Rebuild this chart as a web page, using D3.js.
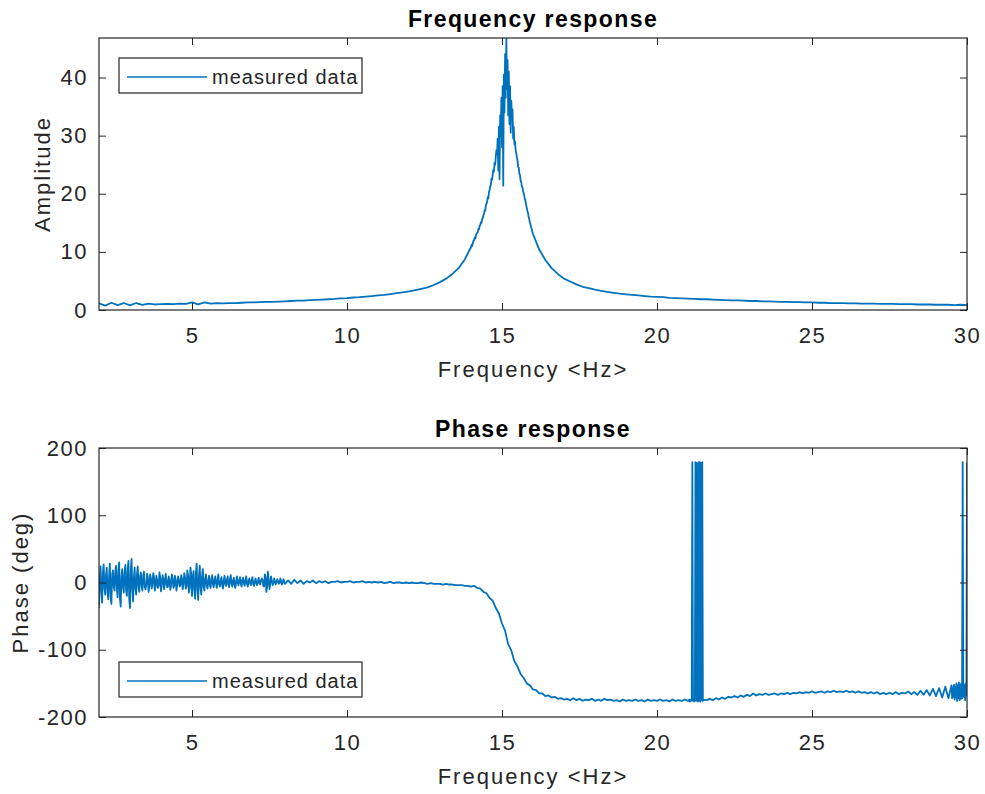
<!DOCTYPE html>
<html>
<head>
<meta charset="utf-8">
<script src="https://cdn.jsdelivr.net/npm/d3@7"></script>
<style>
  body { margin: 0; background: #fff; }
  svg { display: block; font-family: "Liberation Sans", Arial, Helvetica, sans-serif; }
</style>
</head>
<body>
<svg></svg>
<script>
// amplitude, 2.0 - 13.8 Hz every 0.2 Hz
const ampLow = [
  1.15, 0.75, 1.25, 0.85, 1.2, 0.8, 1.2, 0.9, 1.1, 0.95,
  1.0, 1.05, 1.0, 1.1, 1.05, 1.3, 0.95, 1.3, 1.1, 1.2,
  1.15, 1.2, 1.2, 1.25, 1.3, 1.3, 1.35, 1.4, 1.4, 1.45,
  1.5, 1.55, 1.6, 1.6, 1.7, 1.75, 1.8, 1.85, 1.9, 2.0,
  2.05, 2.15, 2.2, 2.3, 2.4, 2.5, 2.6, 2.75, 2.9, 3.05,
  3.2, 3.4, 3.65, 3.9, 4.3, 4.8, 5.4, 6.2, 7.2, 8.7
]
// amplitude, 14.0 - 16.0 Hz every 0.02 Hz (resonance)
const ampPeak = [
  10.8, 11.2, 11.0, 11.6, 11.9, 12.0, 12.5, 12.3, 12.9, 13.1,
  13.3, 13.4, 14.0, 13.9, 14.5, 14.6, 15.1, 15.0, 15.7, 15.8,
  16.3, 16.5, 17.2, 17.1, 18.0, 18.3, 18.6, 19.4, 19.2, 20.3,
  20.6, 21.3, 21.5, 22.6, 22.4, 23.3, 24.1, 23.8, 25.3, 25.0,
  26.4, 27.5, 26.8, 29.5, 24.0, 31.5, 22.5, 33.5, 30.0, 36.5,
  28.0, 38.5, 21.4, 40.5, 34.0, 44.0, 36.5, 46.8, 38.0, 43.0,
  33.5, 41.0, 32.0, 38.5, 30.5, 36.0, 33.0, 34.5, 29.5, 31.5,
  28.5, 29.0, 27.5, 27.0, 26.3, 25.8, 24.6, 24.5, 23.5, 23.2,
  22.3, 22.0, 21.3, 21.1, 20.4, 20.1, 19.6, 19.0, 18.7, 18.0,
  17.6, 17.0, 16.7, 16.0, 15.6, 15.1, 14.7, 14.2, 13.9, 13.4,
  13.1
]
// amplitude, 16.2 - 30.0 Hz every 0.2 Hz
const ampHigh = [
  10.4, 8.6, 7.2, 6.2, 5.4, 4.9, 4.4, 4.0, 3.75, 3.5,
  3.3, 3.1, 2.95, 2.8, 2.7, 2.6, 2.5, 2.4, 2.3, 2.25,
  2.2, 2.1, 2.05, 2.0, 1.95, 1.9, 1.85, 1.85, 1.8, 1.75,
  1.7, 1.65, 1.65, 1.6, 1.55, 1.55, 1.5, 1.5, 1.45, 1.4,
  1.4, 1.35, 1.35, 1.3, 1.3, 1.25, 1.25, 1.2, 1.2, 1.2,
  1.15, 1.15, 1.1, 1.1, 1.1, 1.05, 1.05, 1.05, 1.0, 1.0,
  1.0, 0.95, 0.95, 0.95, 0.9, 0.9, 0.9, 0.85, 0.9, 0.85
]

// phase (deg), 2.000 - 8.000 Hz every 0.025 Hz
const phaseLow = [
  -38, 5, 24, -12, -30, 14, 27, -8, -18, 10,
  22, -15, -25, 8, 28, -20, -32, 12, 18, -5,
  -12, 16, 25, -10, -22, 18, 30, -24, -36, 9,
  20, -7, -15, 15, 26, -12, -20, 20, 32, -25,
  -38, 18, 35, -10, -28, 8, 22, -9, -18, 12,
  24, -6, -14, 9, 15, -5, -12, 10, 16, -7,
  -10, -4, 13, 7, -14, -5, 12, 6, -9, -3,
  14, 8, -12, -6, 10, 4, -8, -5, 15, 7,
  -13, -4, 11, 6, -10, -3, 13, 5, -7, -6,
  9, 4, -11, -4, 12, 6, -8, -5, 10, 3,
  -12, -2, 9, 5, -6, -4, 11, 6, -10, -3,
  14, 8, -9, -6, 18, 10, -15, -8, 22, 12,
  -20, 6, 17, -10, -24, 14, 28, -12, -26, 10,
  25, -8, -18, 9, 20, -6, -12, 5, 12, -4,
  -9, 3, 10, -4, -8, 5, 11, -3, -7, 4,
  9, -2, -8, 5, 12, -3, -6, 2, 8, -4,
  -9, 3, 10, -2, -5, 4, 9, -3, -7, 5,
  11, -2, -6, 3, 7, -4, -8, 2, 9, -1,
  -4, 3, 8, -2, -6, 4, 7, -1, -5, 3,
  9, -2, -6, 2, 6, -1, -4, 3, 8, -2,
  -5, 1, 6, -1, -4, 2, 7, -1, -3, 3,
  6, 4, -5, -6, 12, 8, -14, -5, 16, 3,
  -10, -1, 9, 2, -4, -1, 6, 2, -3, 0,
  5, 2, -2, -1, 6, 2, -3, 0, 5, 1,
  -2
]
// phase, 8.1 - 14.0 Hz every 0.1 Hz
const phaseMid = [
  3, -2, 4, -1, 3, -2, 2, 0, 3, -1,
  2, 0, 2, -1, 1, 1, 2, 0, 1, 1,
  2, 0, 1, 1, 2, 0, 1, 0, 1, 0,
  1, -1, 0, 1, -1, 0, 0, -1, 0, -1,
  0, -1, -1, 0, -1, -2, -1, -2, -2, -2,
  -3, -2, -3, -3, -4, -4, -4, -5, -5, -6
]
// phase, 14.1 - 17.0 Hz every 0.1 Hz
const phaseDrop = [
  -5, -8, -9, -14, -16, -23, -27, -38, -46, -61,
  -72, -92, -101, -117, -125, -136, -142, -150, -153, -159,
  -160, -165, -165, -169, -168, -171, -170, -173, -172, -174
]
// phase, 17.1 - 21.0 Hz every 0.1 Hz
const phaseFlat = [
  -173, -175, -172, -175, -173, -176, -174, -175, -173, -176,
  -174, -176, -173, -175, -174, -176, -175, -177, -174, -176,
  -175, -176, -174, -176, -175, -177, -174, -176, -175, -176,
  -174, -176, -175, -177, -174, -176, -175, -176, -174, -176
]
// phase, 21.02 - 21.50 Hz every 0.02 Hz (wraps to +180)
const phaseWrap1 = [
  -176, -174, -177, -175, -176, -174, 179, -176, -175, -177,
  -174, 179, -176, 178, -175, -177, 179, -176, 179, -177,
  178, -175, 179, -176, -174
]
// phase, 21.6 - 29.5 Hz every 0.1 Hz
const phaseTail = [
  -175, -173, -175, -172, -174, -171, -173, -170, -171, -169,
  -171, -168, -170, -167, -169, -165, -168, -166, -167, -165,
  -167, -166, -165, -167, -165, -166, -164, -166, -164, -165,
  -163, -165, -163, -164, -162, -164, -163, -162, -164, -162,
  -163, -161, -163, -162, -163, -161, -163, -162, -164, -162,
  -164, -163, -165, -163, -165, -163, -166, -164, -166, -164,
  -166, -163, -166, -164, -165, -162, -166, -163, -167, -161,
  -167, -160, -168, -158, -169, -157, -171, -155, -172, -153
]
// phase, 29.52 - 30.00 Hz every 0.02 Hz
const phaseWrap2 = [
  -172, -156, -170, -152, -174, -155, -171, -150, -176, -153,
  -172, -149, -175, -152, -173, -150, -172, 179, -158, -170,
  -152, -175, -150, -168, 178
]

const freqTicks = [5, 10, 15, 20, 25, 30]
const ampTicks = [0, 10, 20, 30, 40]
const phaseTicks = [-200, -100, 0, 100, 200]

const segment = (start, step, values) => values.map((v, i) => [start + i * step, v])

const ampData = [
  ...segment(2, 0.2, ampLow),
  ...segment(14, 0.02, ampPeak),
  ...segment(16.2, 0.2, ampHigh)
]
const phaseData = [
  ...segment(2, 0.025, phaseLow),
  ...segment(8.1, 0.1, phaseMid),
  ...segment(14.1, 0.1, phaseDrop),
  ...segment(17.1, 0.1, phaseFlat),
  ...segment(21.02, 0.02, phaseWrap1),
  ...segment(21.6, 0.1, phaseTail),
  ...segment(29.52, 0.02, phaseWrap2)
]

const width = 985
const height = 794
const left = 99
const right = 967
const ink = '#262626'
const blue = '#0072BD'

const svg = d3.select('svg')
              .attr('width', width)
              .attr('height', height)

const xScale = d3.scaleLinear()
                 .domain([2, 30])
                 .range([left, right])

const styleAxis = (g) => {
  g.attr('font-family', null).attr('font-size', null)
  g.select('.domain').remove()
  g.selectAll('.tick line').attr('stroke', ink).attr('stroke-width', 1)
  g.selectAll('.tick text')
   .attr('fill', ink)
   .style('font-size', '22px')
   .style('letter-spacing', '1.5px')
}

const drawPanel = (cfg, id) => {
  const yScale = d3.scaleLinear()
                   .domain(cfg.yDomain)
                   .range([cfg.bottom, cfg.top])

  svg.append('clipPath')
     .attr('id', id)
     .append('rect')
     .attr('x', left)
     .attr('y', cfg.top)
     .attr('width', right - left)
     .attr('height', cfg.bottom - cfg.top)

  svg.append('path')
     .datum(cfg.data)
     .attr('clip-path', `url(#${id})`)
     .attr('fill', 'none')
     .attr('stroke', blue)
     .attr('stroke-width', 1.8)
     .attr('stroke-linejoin', 'round')
     .attr('d', d3.line().x(d => xScale(d[0])).y(d => yScale(d[1])))

  // plain hyphen for negatives, like the original
  svg.append('g')
     .attr('transform', `translate(0, ${cfg.bottom})`)
     .call(d3.axisBottom(xScale).tickValues(freqTicks).tickSize(-7).tickPadding(17).tickFormat(d => `${d}`))
     .call(styleAxis)

  svg.append('g')
     .attr('transform', `translate(0, ${cfg.top})`)
     .call(d3.axisTop(xScale).tickValues(freqTicks).tickSize(-7).tickFormat(''))
     .call(styleAxis)

  svg.append('g')
     .attr('transform', `translate(${left}, 0)`)
     .call(d3.axisLeft(yScale).tickValues(cfg.yTicks).tickSize(-7).tickPadding(11).tickFormat(d => `${d}`))
     .call(styleAxis)

  svg.append('g')
     .attr('transform', `translate(${right}, 0)`)
     .call(d3.axisRight(yScale).tickValues(cfg.yTicks).tickSize(-7).tickFormat(''))
     .call(styleAxis)

  svg.append('rect')
     .attr('x', left)
     .attr('y', cfg.top)
     .attr('width', right - left)
     .attr('height', cfg.bottom - cfg.top)
     .attr('fill', 'none')
     .attr('stroke', ink)
     .attr('stroke-width', 1.2)

  svg.append('text')
     .text(cfg.title)
     .attr('x', (left + right) / 2)
     .attr('y', cfg.top - 11)
     .attr('text-anchor', 'middle')
     .style('font-size', '23px')
     .style('font-weight', 'bold')
     .style('letter-spacing', '1.4px')

  svg.append('text')
     .text('Frequency <Hz>')
     .attr('x', (left + right) / 2)
     .attr('y', cfg.bottom + 67)
     .attr('text-anchor', 'middle')
     .attr('fill', ink)
     .style('font-size', '22px')
     .style('letter-spacing', '2px')

  svg.append('text')
     .text(cfg.yLabel)
     .attr('transform', `translate(${cfg.yLabelX}, ${(cfg.top + cfg.bottom) / 2})rotate(-90)`)
     .attr('text-anchor', 'middle')
     .attr('fill', ink)
     .style('font-size', '22px')
     .style('letter-spacing', '2px')

  const legend = svg.append('g')
                    .attr('transform', `translate(119, ${cfg.legendY})`)
  legend.append('rect')
        .attr('width', 243)
        .attr('height', 35)
        .attr('fill', '#fff')
        .attr('stroke', ink)
        .attr('stroke-width', 1.2)
  legend.append('line')
        .attr('x1', 8)
        .attr('x2', 88)
        .attr('y1', 19)
        .attr('y2', 19)
        .attr('stroke', blue)
        .attr('stroke-width', 1.6)
  legend.append('text')
        .text('measured data')
        .attr('x', 93)
        .attr('y', 26)
        .attr('fill', ink)
        .style('font-size', '20px')
        .style('letter-spacing', '1px')
}

drawPanel({
  top: 38, bottom: 310, yDomain: [0, 46.8], yTicks: ampTicks, data: ampData,
  title: 'Frequency response', yLabel: 'Amplitude', yLabelX: 50, legendY: 58
}, 'clip-amp')

drawPanel({
  top: 448, bottom: 717, yDomain: [-200, 200], yTicks: phaseTicks, data: phaseData,
  title: 'Phase response', yLabel: 'Phase (deg)', yLabelX: 28, legendY: 662
}, 'clip-phase')
</script>
</body>
</html>
